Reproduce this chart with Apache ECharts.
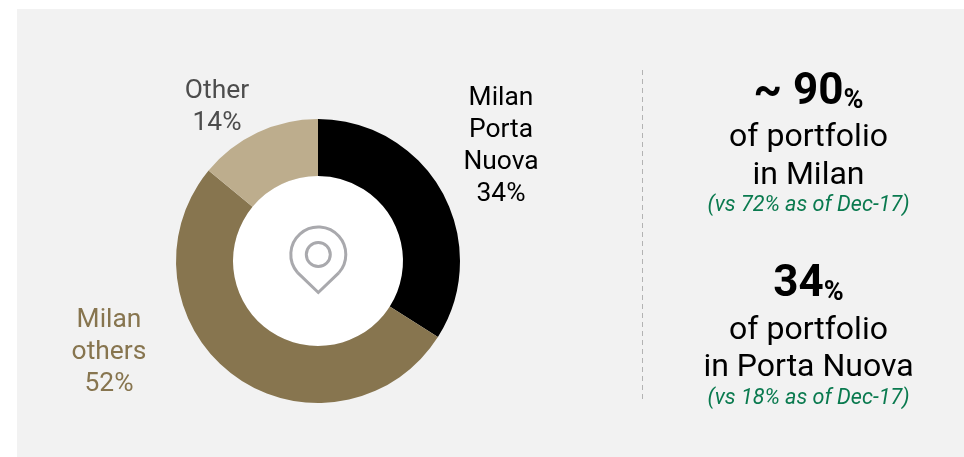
<!DOCTYPE html>
<html>
<head>
<meta charset="utf-8">
<style>
  html, body { margin: 0; padding: 0; background: #fff; overflow: hidden; }
  #panel { position: absolute; left: 17px; top: 9px; width: 947px; height: 448px; background: #f2f2f2; }
  #main { position: absolute; left: 0; top: 0; width: 964px; height: 457px; }
</style>
<script src="https://cdn.jsdelivr.net/npm/echarts@6/dist/echarts.min.js"></script>
</head>
<body>
<div id="panel"></div>
<div id="main"></div>
<script>
const names = ['Milan\nPorta\nNuova', 'Milan\nothers', 'Other'];
const values = [34, 52, 14];
const colors = ['#000000', '#87754f', '#bdad8d'];
const labelColors = ['#000000', '#87754f', '#4d4d4d'];
const labelSpots = [[501, 146], [109, 352], [217, 107]];

const headlines = ['~ 90', '34'];
const subLines = [['of portfolio', 'in Milan'], ['of portfolio', 'in Porta Nuova']];
const notes = ['(vs 72% as of Dec-17)', '(vs 18% as of Dec-17)'];
const blockY = [[93, 138, 176, 206], [285, 331, 368, 399]];

const font = 'Roboto';
const textX = 808.5;

const chart = echarts.init(document.getElementById('main'));

function centered(text, y, size, color, extra) {
    return {
        type: 'text',
        z: 100,
        style: Object.assign({
            text: text,
            x: textX,
            y: y,
            align: 'center',
            verticalAlign: 'middle',
            fontFamily: font,
            fontSize: size,
            fill: color
        }, extra || {})
    };
}

const pinStyle = {fill: 'none', stroke: '#a9a9ad', lineWidth: 3};

let graphics = [
    {
        type: 'line',
        z: 100,
        shape: {x1: 642.5, y1: 70, x2: 642.5, y2: 400},
        style: {stroke: '#b3b3b3', lineWidth: 1, lineDash: [5, 4]}
    },
    // pin icon in the hole
    {
        type: 'arc',
        z: 100,
        shape: {cx: 318.3, cy: 254.5, r: 27.5, startAngle: 2.42, endAngle: 0.72, clockwise: true},
        style: pinStyle
    },
    {
        type: 'polyline',
        z: 100,
        shape: {points: [[297.6, 272.6], [318.3, 292.5], [339, 272.6]]},
        style: pinStyle
    },
    {
        type: 'circle',
        z: 100,
        shape: {cx: 318.3, cy: 254.5, r: 12},
        style: pinStyle
    }
];

headlines.forEach((h, i) => {
    graphics.push({
        type: 'text',
        z: 100,
        style: {
            x: textX,
            y: blockY[i][0],
            align: 'center',
            verticalAlign: 'middle',
            text: '{a|' + h + '}{b|%}',
            rich: {
                a: {fontFamily: font, fontSize: 44, fontWeight: 'bold', fill: '#000000'},
                b: {fontFamily: font, fontSize: 27, fontWeight: 'bold', fill: '#000000', verticalAlign: 'bottom'}
            }
        }
    });
    graphics.push(centered(subLines[i][0], blockY[i][1], 32, '#000000'));
    graphics.push(centered(subLines[i][1], blockY[i][2], 32, '#000000'));
    graphics.push(centered(notes[i], blockY[i][3], 21.6, '#0a7a4f', {fontStyle: 'italic'}));
});

const option = {
    animation: false,
    backgroundColor: 'transparent',
    graphic: {elements: graphics},
    series: [
        {
            type: 'pie',
            silent: true,
            radius: [0, 85],
            center: [318, 261],
            label: {show: false},
            labelLine: {show: false},
            itemStyle: {color: '#ffffff'},
            data: [1]
        },
        {
            type: 'pie',
            silent: true,
            radius: [85, 142],
            center: [318, 261],
            startAngle: 90,
            clockwise: true,
            labelLine: {show: false},
            label: {
                show: true,
                fontFamily: font,
                fontSize: 26.4,
                lineHeight: 32,
                align: 'center',
                verticalAlign: 'middle',
                formatter: p => p.name + '\n' + p.value + '%'
            },
            labelLayout: p => ({
                x: labelSpots[p.dataIndex][0],
                y: labelSpots[p.dataIndex][1],
                align: 'center',
                verticalAlign: 'middle'
            }),
            data: names.map((n, i) => ({
                name: n,
                value: values[i],
                itemStyle: {color: colors[i]},
                label: {color: labelColors[i]}
            }))
        }
    ]
};
chart.setOption(option);
</script>
</body>
</html>
